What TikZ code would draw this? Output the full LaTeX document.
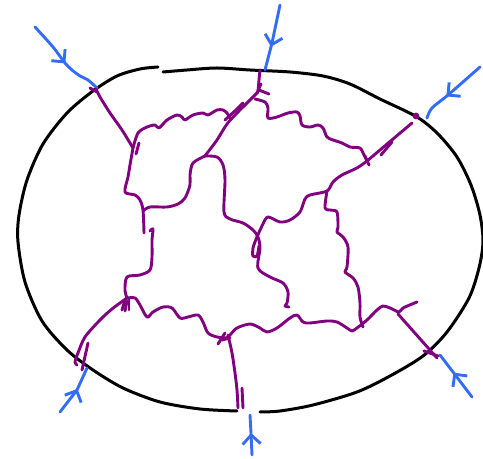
\documentclass[tikz,border=0pt]{standalone}
\usepackage{tikz}
\usetikzlibrary{arrows.meta,decorations.markings}
\definecolor{legblue}{RGB}{51,108,246}
\definecolor{gluon}{RGB}{128,0,128}

\begin{document}
\begin{tikzpicture}[x=0.5pt,y=-0.5pt,
    wall/.style={line width=1.5pt,black,line cap=round},
    prop/.style={line width=1.45pt,gluon,line cap=round,line join=round},
    leg/.style={line width=1.45pt,legblue,line cap=round,postaction={decorate},
      decoration={markings,mark=at position #1 with
        {\arrow{Straight Barb[length=4.5pt,width=9pt]}}}},
    leg/.default=0.55]
    \useasboundingbox (0,0) rectangle (483,459);

    % vertices
    \coordinate (vtl) at (133,148);
    \coordinate (vtop) at (258,92);
    \coordinate (vc) at (205,156);
    \coordinate (vd) at (367,161);
    \coordinate (vm) at (327,191);
    \coordinate (vg) at (127,298);
    \coordinate (vh) at (227,338);
    \coordinate (vbr) at (399,312);
    % points on the boundary
    \coordinate (btl) at (96,89);
    \coordinate (bt) at (260,70);
    \coordinate (btr) at (416,116);
    \coordinate (bbl) at (77,365);
    \coordinate (bb) at (238,408);
    \coordinate (bbr) at (437,358);

    % boundary
    \draw[wall] plot[smooth] coordinates {(163,72) (187,70) (217,68) (250,70)
      (290,72) (323,76) (350,84) (380,99) (417,117) (438,134) (457,157) (471,185)
      (480,215) (483,242) (479,268) (469,298) (447,332) (423,356) (390,376)
      (357,392) (313,405) (280,411) (260,412)};
    \draw[wall] plot[smooth] coordinates {(237,411) (200,409) (160,402)
      (123,388) (93,370) (67,350) (42,321) (25,282) (18,242) (19,215) (27,180)
      (43,144) (67,113) (93,91) (117,76) (140,69) (158,67)};

    % external legs
    \draw[leg=0.54] plot[smooth] coordinates {(35,27) (53,47) (65,63) (72,70)
      (80,76) (88,80) (97,88)};
    \draw[leg=0.64] (280,5) -- (272,43) -- (265,70);
    \draw[leg=0.6] plot[smooth] coordinates {(480,67) (448,95) (432,108)
      (427,118)};
    \draw[leg=0.56] (60,412) -- (77,390) -- (87,368);
    \draw[leg=0.55] (252,455) -- (251,433) -- (250,415);
    \draw[leg=0.58] (472,397) -- (453,372) -- (440,355);

    % top left
    \draw[prop] (90,88) -- (97,92);
    \draw[prop] plot[smooth] coordinates {(btl) (100,97) (110,113) (122,130)
      (vtl)};
    \draw[prop] (139,143) -- (136,154);
    \draw[prop] plot[smooth] coordinates {(vtl) (138,133) (147,127) (155,125)
      (159,128) (167,120) (177,115) (182,117) (185,120) (193,115) (203,113)
      (208,115) (217,110) (223,110) (227,113) (230,118)};
    \draw[prop] plot[smooth] coordinates {(vtl) (130,165) (128,177) (125,192)
      (135,195) (140,200) (143,210) (144,233)};

    % top
    \draw[prop] plot[smooth] coordinates {(bt) (259,80) (vtop)};
    \draw[prop] (261,84) -- (257,93);
    \draw[prop] (259,90) -- (269,94);
    \draw[prop] plot[smooth] coordinates {(vtop) (248,102) (237,113) (227,124)
      (217,140) (208,152) (vc)};
    \draw[prop] (243,103) -- (237,109) -- (225,120);
    \draw[prop] plot[smooth] coordinates {(255,99) (265,102) (268,108)
      (268,118) (277,117) (288,113) (297,112) (300,116) (302,125) (310,127)
      (318,125) (323,128) (327,137) (333,140) (342,143) (350,147) (360,148)
      (363,153) (vd)};

    % top right
    \fill[gluon] (btr) circle (1.7pt);
    \draw[prop] (412,123) -- (vd);
    \draw[prop] (381,155) -- (392,142) -- (387,144);
    \draw[prop] (365,156) -- (369,165);
    \draw[prop] plot[smooth] coordinates {(vd) (357,168) (342,175) (333,182)
      (vm) (310,195) (305,199) (300,212) (290,220) (280,222) (268,217)
      (263,224) (257,237) (253,248) (253,256) (257,256) (259,246)};
    \draw[prop] plot[smooth] coordinates {(vm) (325,208) (330,210) (337,212)
      (338,227) (337,232) (343,237) (348,247) (347,267) (345,272) (353,278)
      (358,287) (360,303) (360,317) (363,327)};

    % centre
    \draw[prop] plot[smooth] coordinates {(vc) (217,157) (223,165) (225,180)
      (224,212) (230,219) (243,223) (253,230) (258,237) (260,248) (258,268)
      (270,277) (283,283) (288,292) (287,303) (285,306) (289,307)};
    \draw[prop] plot[smooth] coordinates {(vc) (193,163) (190,175) (190,185)
      (185,198) (178,204) (167,207) (150,207) (143,211)};

    % left
    \draw[prop] plot[smooth] coordinates {(150,231) (153,229) (152,240)
      (152,257) (150,270) (140,275) (127,277) (125,290) (vg)};
    \draw[prop] (122,310) -- (125,300);
    \draw[prop] (125,311) -- (127,301);
    \draw[prop] (129,310) -- (129,299);
    \draw[prop] plot[smooth] coordinates {(vg) (112,309) (100,320) (85,337)
      (78,353) (75,362) (bbl)};
    \draw[prop] (88,343) -- (82,370);
    \draw[prop] plot[smooth] coordinates {(vg) (135,298) (140,305) (147,317)
      (153,312) (163,307) (172,308) (180,318) (188,317) (198,315) (203,322)
      (208,333) (217,337) (vh)};

    % bottom
    \draw[prop] (218,344) -- (225,333);
    \draw[prop] (222,340) -- (230,338);
    \draw[prop] plot[smooth] coordinates {(vh) (230,335) (237,328) (250,324)
      (260,328) (267,332) (277,328) (290,318) (297,315) (303,322) (310,323)
      (327,321) (337,322) (347,328) (352,331) (357,328) (367,320) (377,310)
      (383,306) (390,308) (vbr) (403,308) (417,302)};
    \draw[prop] plot[smooth] coordinates {(228,335) (232,353) (235,373)
      (237,390) (bb)};
    \draw[prop] (242,388) -- (243,408);
    \draw[prop] (398,314) -- (bbr);
    \draw[prop] (424,351) -- (438,356);
\end{tikzpicture}
\end{document}
